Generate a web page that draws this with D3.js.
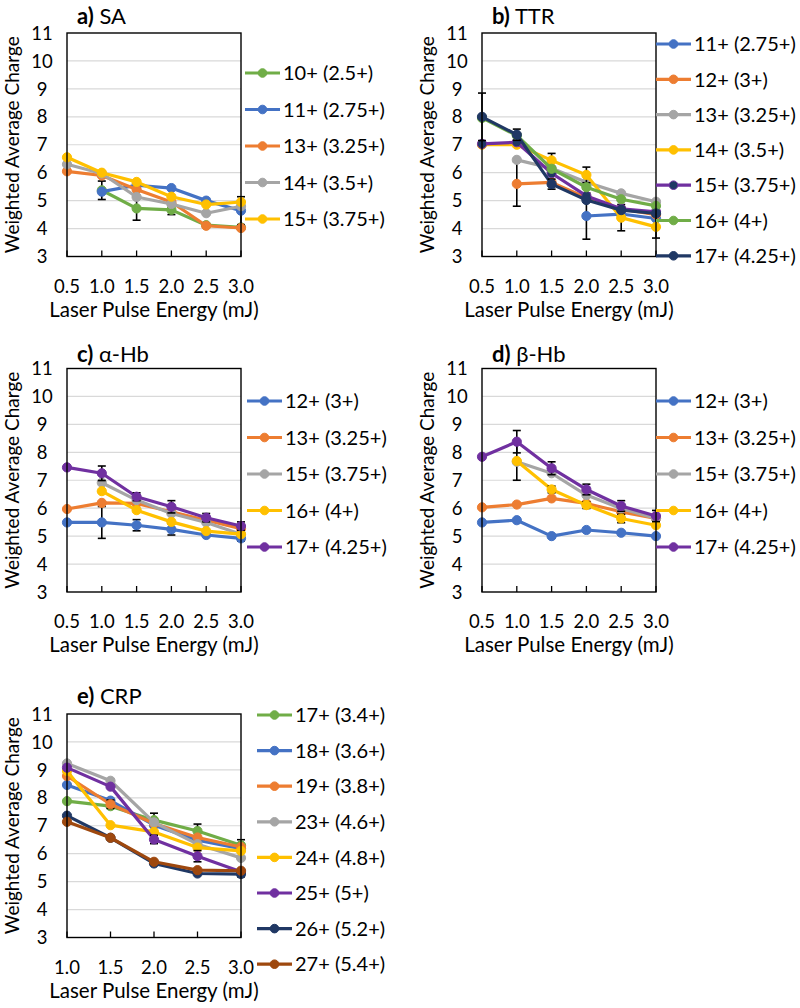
<!DOCTYPE html>
<html><head><meta charset="utf-8">
<script src="https://cdn.jsdelivr.net/npm/d3@7"></script>
<style>
body{margin:0;background:#fff;}
svg{display:block;font-family:Lato,"Open Sans",sans-serif;}
</style></head>
<body><svg id="c" width="800" height="1008"></svg>
<script>
// ---------- DATA ----------
const energies = [0.5, 1.0, 1.5, 2.0, 2.5, 3.0];
const energiesCRP = [1.0, 1.5, 2.0, 2.5, 3.0];
const yTicks = [3, 4, 5, 6, 7, 8, 9, 10, 11];

const saLabels = ["10+ (2.5+)", "11+ (2.75+)", "13+ (3.25+)", "14+ (3.5+)", "15+ (3.75+)"];
const saValues = [
  [null, 5.37, 4.72, 4.67, 4.12, 4.04],
  [null, 5.32, 5.55, 5.45, 5.00, 4.64],
  [6.05, 5.90, 5.40, 4.95, 4.10, 4.02],
  [6.30, 5.97, 5.13, 4.88, 4.55, 4.80],
  [6.55, 6.00, 5.67, 5.14, 4.86, 4.95]
];
const saErrors = [
  [0, 0.33, 0.42, 0.17, 0, 0],
  [0, 0, 0, 0, 0, 0.5],
  [0, 0, 0, 0, 0, 0],
  [0, 0, 0, 0, 0, 0],
  [0, 0, 0, 0, 0, 0]
];

const ttrLabels = ["11+ (2.75+)", "12+ (3+)", "13+ (3.25+)", "14+ (3.5+)", "15+ (3.75+)", "16+ (4+)", "17+ (4.25+)"];
const ttrValues = [
  [null, null, null, 4.45, 4.52, 4.36],
  [null, 5.60, 5.65, 5.10, 4.70, 4.50],
  [null, 6.46, 6.16, 5.66, 5.26, 4.96],
  [7.00, 7.00, 6.44, 5.92, 4.39, 4.06],
  [7.03, 7.09, 5.98, 5.17, 4.71, 4.60],
  [7.96, 7.33, 6.14, 5.48, 5.05, 4.81],
  [8.00, 7.36, 5.59, 5.02, 4.66, 4.54]
];
const ttrErrors = [
  [0, 0, 0, 0.83, 0, 0],
  [0, 0.8, 0, 0, 0, 0],
  [0, 0, 0, 0, 0, 0],
  [0, 0, 0.25, 0.28, 0.47, 0.4],
  [0, 0, 0, 0, 0, 0],
  [0, 0, 0, 0, 0, 0],
  [0.85, 0.2, 0.18, 0, 0, 0]
];

const ahbLabels = ["12+ (3+)", "13+ (3.25+)", "15+ (3.75+)", "16+ (4+)", "17+ (4.25+)"];
const ahbValues = [
  [5.49, 5.49, 5.39, 5.24, 5.04, 4.92],
  [5.97, 6.19, 6.17, 5.87, 5.57, 5.27],
  [null, 6.91, 6.29, 5.81, 5.49, 5.07],
  [null, 6.61, 5.93, 5.51, 5.18, 5.07],
  [7.46, 7.25, 6.41, 6.05, 5.66, 5.36]
];
const ahbErrors = [
  [0, 0.57, 0.2, 0.2, 0, 0.1],
  [0, 0, 0, 0, 0, 0],
  [0, 0, 0, 0, 0, 0],
  [0, 0, 0, 0, 0, 0],
  [0, 0.26, 0.14, 0.22, 0.15, 0.15]
];

const bhbLabels = ["12+ (3+)", "13+ (3.25+)", "15+ (3.75+)", "16+ (4+)", "17+ (4.25+)"];
const bhbValues = [
  [5.49, 5.57, 5.00, 5.22, 5.12, 5.00],
  [6.03, 6.13, 6.35, 6.17, 5.87, 5.63],
  [null, 7.66, 7.25, 6.47, 5.99, 5.63],
  [null, 7.69, 6.67, 6.11, 5.63, 5.39],
  [7.84, 8.38, 7.43, 6.67, 6.08, 5.72]
];
const bhbErrors = [
  [0, 0, 0, 0, 0, 0],
  [0, 0, 0, 0, 0, 0],
  [0, 0.66, 0, 0, 0, 0],
  [0, 0, 0.12, 0.12, 0.15, 0],
  [0, 0.4, 0.23, 0.19, 0.19, 0.2]
];

const crpLabels = ["17+ (3.4+)", "18+ (3.6+)", "19+ (3.8+)", "23+ (4.6+)", "24+ (4.8+)", "25+ (5+)", "26+ (5.2+)", "27+ (5.4+)"];
const crpValues = [
  [7.88, 7.70, 7.20, 6.81, 6.30],
  [8.46, 7.90, 7.02, 6.48, 6.18],
  [8.78, 7.77, 7.08, 6.58, 6.24],
  [9.23, 8.61, 7.12, 6.34, 5.85],
  [8.96, 7.02, 6.78, 6.22, 6.10],
  [9.08, 8.40, 6.51, 5.91, 5.35],
  [7.36, 6.57, 5.65, 5.29, 5.27],
  [7.14, 6.57, 5.71, 5.41, 5.39]
];
const crpErrors = [
  [0, 0, 0.25, 0.25, 0.2],
  [0, 0, 0, 0, 0],
  [0, 0.15, 0, 0, 0],
  [0, 0, 0, 0, 0],
  [0, 0, 0, 0, 0],
  [0, 0, 0.15, 0.2, 0],
  [0, 0, 0, 0, 0.1],
  [0, 0, 0, 0, 0]
];

// ---------- STYLE ----------
const C = {
  blue: "#4472C4", orange: "#ED7D31", gray: "#A5A5A5", yellow: "#FFC000",
  green: "#70AD47", purple: "#7030A0", navy: "#203864", brown: "#9E480E"
};
const saColors = [C.green, C.blue, C.orange, C.gray, C.yellow];
const ttrColors = [C.blue, C.orange, C.gray, C.yellow, C.purple, C.green, C.navy];
const ttrFills = [C.blue, C.orange, C.gray, C.yellow, C.navy, C.green, C.navy];
const hbColors = [C.blue, C.orange, C.gray, C.yellow, C.purple];
const crpColors = [C.green, C.blue, C.orange, C.gray, C.yellow, C.purple, C.navy, C.brown];

const panels = [
  {title: "a)", name: " SA", x: energies, labels: saLabels, values: saValues, errors: saErrors, colors: saColors, fills: saColors,
   left: 67, top: 33, titleY: 24, leg: {x: 245, y: 73, dy: 36.5}},
  {title: "b)", name: " TTR", x: energies, labels: ttrLabels, values: ttrValues, errors: ttrErrors, colors: ttrColors, fills: ttrFills,
   left: 482, top: 33, titleY: 24, leg: {x: 656, y: 44, dy: 35.3}},
  {title: "c)", name: " α-Hb", x: energies, labels: ahbLabels, values: ahbValues, errors: ahbErrors, colors: hbColors, fills: hbColors,
   left: 67, top: 368.5, titleY: 362, leg: {x: 247, y: 401, dy: 36.5}},
  {title: "d)", name: " β-Hb", x: energies, labels: bhbLabels, values: bhbValues, errors: bhbErrors, colors: hbColors, fills: hbColors,
   left: 482, top: 368.5, titleY: 362, leg: {x: 656, y: 401, dy: 36.5}},
  {title: "e)", name: " CRP", x: energiesCRP, labels: crpLabels, values: crpValues, errors: crpErrors, colors: crpColors, fills: crpColors,
   left: 67, top: 714, titleY: 704, leg: {x: 257, y: 715, dy: 35.6}}
];

const W = 174, H = 223.5;
const svg = d3.select("#c");

panels.forEach(p => {
  const g = svg.append("g");
  const x = d3.scaleLinear().domain(d3.extent(p.x)).range([p.left, p.left + W]);
  const y = d3.scaleLinear().domain([3, 11]).range([p.top + H, p.top]);

  // gridlines
  g.append("g").selectAll("line").data(yTicks.slice(1, -1)).join("line")
    .attr("x1", p.left).attr("x2", p.left + W)
    .attr("y1", d => y(d)).attr("y2", d => y(d))
    .attr("stroke", "#d9d9d9").attr("stroke-width", 1.2);

  // y axis labels
  g.append("g").selectAll("text").data(yTicks).join("text")
    .attr("x", p.left - 25).attr("y", d => y(d)).attr("dy", "0.36em")
    .attr("text-anchor", "middle").attr("font-size", 18.5).attr("fill", "#000")
    .text(d => d);

  // x axis labels
  g.append("g").selectAll("text").data(p.x).join("text")
    .attr("x", d => x(d)).attr("y", p.top + H + 36)
    .attr("text-anchor", "middle").attr("font-size", 18.5).attr("fill", "#000")
    .text(d => d3.format(".1f")(d));

  // x ticks (inward)
  g.append("g").selectAll("line").data(p.x).join("line")
    .attr("x1", d => x(d)).attr("x2", d => x(d))
    .attr("y1", p.top + H).attr("y2", p.top + H - 6)
    .attr("stroke", "#000").attr("stroke-width", 1.3);

  // axis titles
  g.append("text").attr("x", p.left + W / 2).attr("y", p.top + H + 60)
    .attr("text-anchor", "middle").attr("font-size", 20.5).text("Laser Pulse Energy (mJ)");
  g.append("text")
    .attr("transform", `translate(${p.left - 48},${p.top + H / 2}) rotate(-90)`)
    .attr("text-anchor", "middle").attr("font-size", 19).text("Weighted Average Charge");

  // panel title
  const t = g.append("text").attr("x", p.left + 10).attr("y", p.titleY).attr("font-size", 22);
  t.append("tspan").attr("font-weight", "bold").text(p.title);
  t.append("tspan").text(p.name);

  // series
  const line = d3.line().defined(d => d.v != null).x(d => x(d.e)).y(d => y(d.v));
  p.values.forEach((vals, i) => {
    const pts = vals.map((v, j) => ({e: p.x[j], v: v, err: p.errors[i][j]}));
    const sg = g.append("g");
    sg.append("path").datum(pts).attr("d", line)
      .attr("fill", "none").attr("stroke", p.colors[i]).attr("stroke-width", 3.2)
      .attr("stroke-linejoin", "round");
    // error bars
    const eb = pts.filter(d => d.v != null && d.err > 0);
    sg.selectAll("line.eb").data(eb).join("line").attr("class", "eb")
      .attr("x1", d => x(d.e)).attr("x2", d => x(d.e))
      .attr("y1", d => y(d.v - d.err)).attr("y2", d => y(d.v + d.err))
      .attr("stroke", "#000").attr("stroke-width", 1.6);
    [-1, 1].forEach(s => {
      sg.selectAll("line.cap" + (s > 0 ? "u" : "d")).data(eb).join("line")
        .attr("class", "cap" + (s > 0 ? "u" : "d"))
        .attr("x1", d => x(d.e) - 4).attr("x2", d => x(d.e) + 4)
        .attr("y1", d => y(d.v + s * d.err)).attr("y2", d => y(d.v + s * d.err))
        .attr("stroke", "#000").attr("stroke-width", 1.6);
    });
    sg.selectAll("circle").data(pts.filter(d => d.v != null)).join("circle")
      .attr("cx", d => x(d.e)).attr("cy", d => y(d.v)).attr("r", 4.6)
      .attr("fill", p.fills[i]).attr("stroke", p.colors[i]).attr("stroke-width", 1);
  });

  // frame
  g.append("rect").attr("x", p.left).attr("y", p.top).attr("width", W).attr("height", H)
    .attr("fill", "none").attr("stroke", "#000").attr("stroke-width", 1.4);

  // legend
  const lg = g.append("g");
  p.labels.forEach((lab, i) => {
    const ly = p.leg.y + i * p.leg.dy;
    lg.append("line").attr("x1", p.leg.x).attr("x2", p.leg.x + 35)
      .attr("y1", ly).attr("y2", ly).attr("stroke", p.colors[i]).attr("stroke-width", 3.2);
    lg.append("circle").attr("cx", p.leg.x + 17.5).attr("cy", ly).attr("r", 4.3)
      .attr("fill", p.fills[i]).attr("stroke", p.colors[i]).attr("stroke-width", 1);
    lg.append("text").attr("x", p.leg.x + 38).attr("y", ly).attr("dy", "0.36em")
      .attr("font-size", 20).text(lab);
  });
});
</script></body></html>
